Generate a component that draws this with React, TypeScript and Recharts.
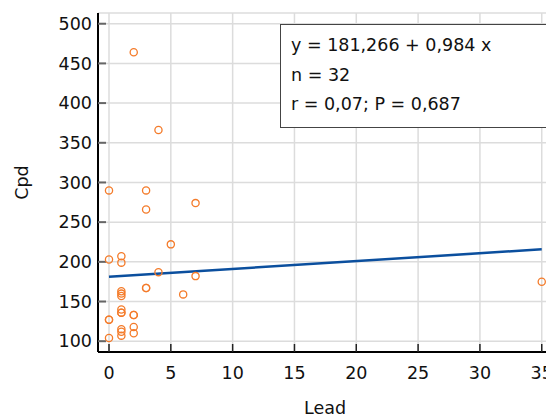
import { ScatterChart, Scatter, XAxis, YAxis, CartesianGrid, ReferenceLine } from 'recharts';

// Lead vs Cpd, 32 cases (some points coincide)
const leadValues = [0, 0, 0, 0, 0, 1, 1, 1, 1, 1, 1, 1, 1, 1, 1, 1, 2, 2, 2, 2, 2, 3, 3, 3, 3, 4, 4, 5, 6, 7, 7, 35];
const cpdValues = [290, 203, 127, 127, 104, 207, 199, 163, 160, 157, 140, 136, 136, 115, 112, 107, 464, 133, 133, 118, 110, 290, 266, 167, 167, 366, 187, 222, 159, 274, 182, 175];

const xTicks = [0, 5, 10, 15, 20, 25, 30, 35];
const yTicks = [100, 150, 200, 250, 300, 350, 400, 450, 500];

const intercept = 181.266;
const slope = 0.984;
const fitRange = [0, 35];

const statLines = ['y = 181,266 + 0,984 x', 'n = 32', 'r = 0,07; P = 0,687'];

const FONT = '"DejaVu Sans", sans-serif';
const ORANGE = '#f47b2a';

const points = leadValues.map((x, i) => ({ x, y: cpdValues[i] }));

const Ring = (props: any) => {
    const { cx, cy } = props;
    if (cx == null || cy == null) return null;
    return <circle cx={cx} cy={cy} r={3.6} fill="none" stroke={ORANGE} strokeWidth={1.3} />;
};

export default function App() {
    const tickStyle = { fontFamily: FONT, fontSize: 17.5, fill: '#111' };

    return (
        <div style={{ position: 'absolute', left: 0, top: 0, width: 546, height: 418, overflow: 'hidden', background: '#fff' }}>
            <ScatterChart width={560} height={418} margin={{ top: 13, right: 8, left: 0, bottom: 0 }}>
                <CartesianGrid stroke="#dcdcdc" strokeWidth={1.5} />
                <XAxis
                    xAxisId="top"
                    orientation="top"
                    type="number"
                    dataKey="x"
                    domain={[-0.89, 35.83]}
                    height={0}
                    tick={false}
                    tickLine={false}
                    axisLine={{ stroke: '#000', strokeWidth: 2 }}
                />
                <XAxis
                    type="number"
                    dataKey="x"
                    domain={[-0.89, 35.83]}
                    ticks={xTicks}
                    height={66}
                    tickSize={-8}
                    tickMargin={23}
                    tick={tickStyle}
                    tickLine={{ stroke: '#222', strokeWidth: 1.5 }}
                    axisLine={{ stroke: '#000', strokeWidth: 2 }}
                    label={({ viewBox }: any) => (
                        <text x={viewBox.x + viewBox.width / 2} y={414} textAnchor="middle" style={{ fontFamily: FONT, fontSize: 17.5, fill: '#111' }}>
                            Lead
                        </text>
                    )}
                />
                <YAxis
                    type="number"
                    dataKey="y"
                    domain={[86.4, 513.5]}
                    ticks={yTicks}
                    width={98}
                    tickSize={-8}
                    tickMargin={14}
                    tick={tickStyle}
                    tickLine={{ stroke: '#666', strokeWidth: 2 }}
                    axisLine={{ stroke: '#000', strokeWidth: 2 }}
                    label={({ viewBox }: any) => {
                        const cy = viewBox.y + viewBox.height / 2;
                        return (
                            <text x={28} y={cy} transform={`rotate(-90, 28, ${cy})`} textAnchor="middle" style={{ fontFamily: FONT, fontSize: 17.5, fill: '#111' }}>
                                Cpd
                            </text>
                        );
                    }}
                />
                <ReferenceLine
                    segment={[
                        { x: fitRange[0], y: intercept + slope * fitRange[0] },
                        { x: fitRange[1], y: intercept + slope * fitRange[1] },
                    ]}
                    stroke="#0b4f9e"
                    strokeWidth={2.5}
                />
                <Scatter data={points} shape={Ring} isAnimationActive={false} />
            </ScatterChart>
            <div
                style={{
                    position: 'absolute',
                    left: 280,
                    top: 24,
                    width: 256,
                    height: 96,
                    border: '1.5px solid #444',
                    background: '#fff',
                    fontFamily: FONT,
                    fontSize: 17.5,
                    color: '#111',
                    lineHeight: '29.5px',
                    padding: '6px 0 0 10px',
                    boxSizing: 'content-box',
                }}
            >
                {statLines.map(line => (
                    <div key={line} style={{ whiteSpace: 'nowrap' }}>{line}</div>
                ))}
            </div>
        </div>
    );
}
